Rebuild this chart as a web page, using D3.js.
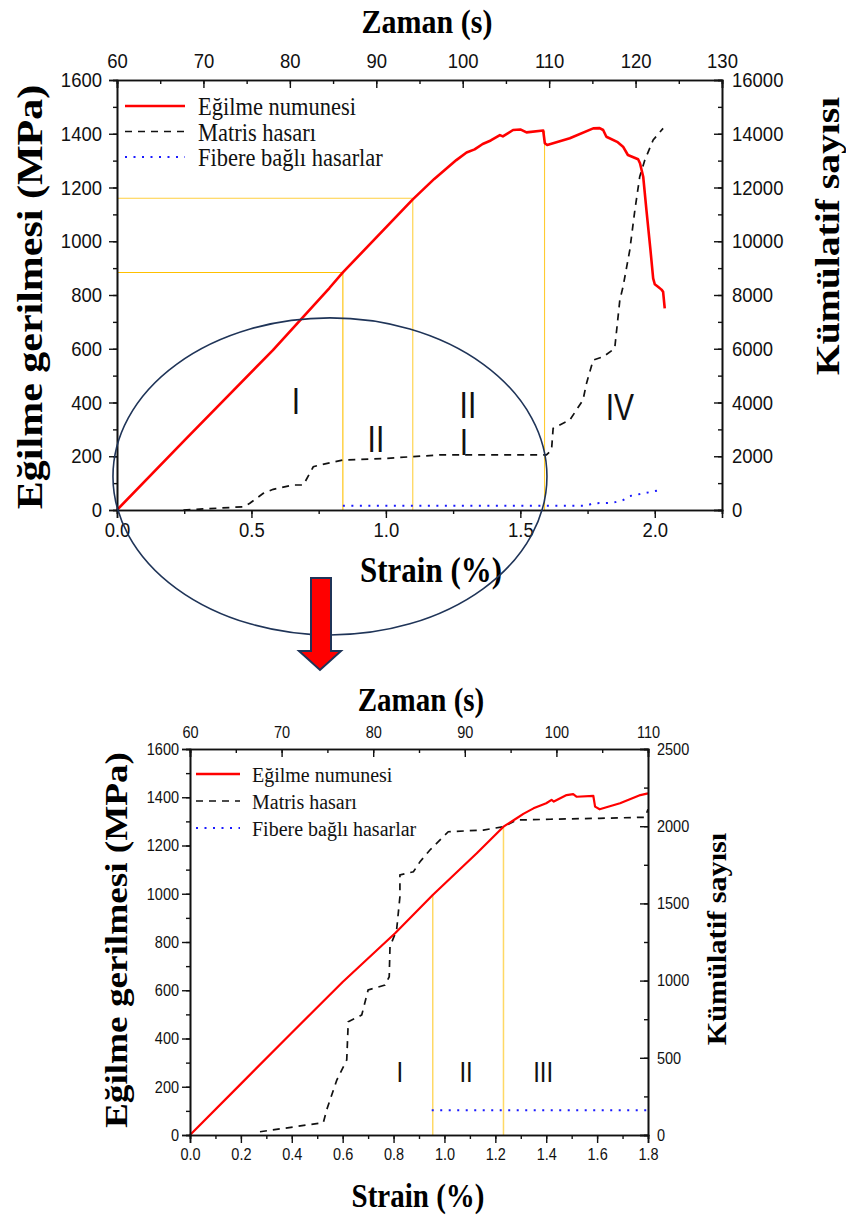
<!DOCTYPE html>
<html><head><meta charset="utf-8">
<script src="https://cdn.jsdelivr.net/npm/d3@7"></script>
<style>body{margin:0;background:#fff}svg{display:block}</style>
</head><body>
<svg id="fig" width="846" height="1216"></svg>
<script>
// ---------- upper panel: whole bending test ----------
const upperStrain = [0, 0.25, 0.58, 0.79, 0.84, 1.10, 1.18, 1.262, 1.30, 1.33, 1.36, 1.39, 1.424, 1.435, 1.473, 1.50, 1.523, 1.585, 1.591, 1.60, 1.684, 1.771, 1.795, 1.808, 1.82, 1.86, 1.882, 1.90, 1.938, 1.945, 1.957, 1.969, 1.984, 1.994, 2.0, 2.012, 2.025, 2.031, 2.037];
const upperStress = [0, 258, 595, 826, 884, 1156, 1232, 1302, 1330, 1342, 1362, 1375, 1395, 1390, 1414, 1416, 1405, 1412, 1365, 1358, 1383, 1420, 1421, 1414, 1389, 1370, 1352, 1321, 1305, 1290, 1240, 1116, 967, 862, 840, 831, 820, 812, 750];
const upperMatrixStrain = [0.247, 0.47, 0.494, 0.544, 0.581, 0.655, 0.693, 0.73, 0.755, 0.84, 1.0, 1.20, 1.597, 1.616, 1.622, 1.684, 1.733, 1.746, 1.771, 1.808, 1.851, 1.870, 1.882, 1.907, 1.926, 1.944, 1.963, 1.994, 2.031];
const upperMatrixCount = [0, 120, 250, 620, 770, 930, 930, 1610, 1675, 1860, 1920, 2050, 2050, 2230, 3040, 3350, 4090, 4710, 5580, 5700, 6010, 7810, 8310, 9670, 11160, 12400, 13020, 13770, 14200];
const upperFiberStrain = [0.84, 1.746, 1.771, 1.845, 1.882, 1.907, 1.969, 2.019];
const upperFiberCount = [160, 160, 250, 270, 370, 520, 640, 740];
// stage boundaries: strain, stress, whether a horizontal reference is drawn to the stress axis
const upperGuideStrain = [0.84, 1.10, 1.59];
const upperGuideStress = [884, 1160, 1410];
const upperGuideHorizontal = [true, true, false];
const upperStageText = ["I", "II", "II", "I", "IV"];
const upperStageStrain = [0.665, 0.963, 1.305, 1.29, 1.87];
const upperStageStress = [402, 262, 387, 250, 380];
const upperStrainTicks = [0, 0.5, 1.0, 1.5, 2.0];
const upperTimeTicks = [60, 70, 80, 90, 100, 110, 120, 130];
const upperStressTicks = [0, 200, 400, 600, 800, 1000, 1200, 1400, 1600];
const upperCountTicks = [0, 2000, 4000, 6000, 8000, 10000, 12000, 14000, 16000];

// ---------- lower panel: close-up up to 1.8 % strain ----------
const lowerStrain = [0, 0.2, 0.4, 0.6, 0.806, 0.954, 1.127, 1.232, 1.284, 1.31, 1.35, 1.40, 1.421, 1.43, 1.48, 1.506, 1.52, 1.585, 1.592, 1.61, 1.69, 1.77, 1.80];
const lowerStress = [0, 212, 424, 634, 836, 995, 1168, 1278, 1313, 1331, 1354, 1375, 1389, 1382, 1409, 1413, 1402, 1406, 1361, 1350, 1375, 1409, 1416];
const lowerMatrixStrain = [0.275, 0.524, 0.537, 0.577, 0.616, 0.622, 0.675, 0.70, 0.766, 0.783, 0.786, 0.812, 0.825, 0.825, 0.878, 0.904, 0.943, 1.015, 1.153, 1.232, 1.284, 1.415, 1.61, 1.789, 1.80];
const lowerMatrixCount = [21, 80, 162, 356, 486, 734, 777, 939, 971, 1025, 1220, 1328, 1543, 1684, 1705, 1770, 1846, 1964, 1975, 1997, 2040, 2045, 2051, 2058, 2110];
const lowerFiberStrain = [0.95, 1.80];
const lowerFiberCount = [160, 160];
const lowerGuideStrain = [0.954, 1.232];
const lowerGuideStress = [995, 1278];
const lowerGuideHorizontal = [false, false];
const lowerStageText = ["I", "II", "III"];
const lowerStageStrain = [0.825, 1.085, 1.388];
const lowerStageStress = [261, 261, 261];
const lowerStrainTicks = [0, 0.2, 0.4, 0.6, 0.8, 1.0, 1.2, 1.4, 1.6, 1.8];
const lowerTimeTicks = [60, 70, 80, 90, 100, 110];
const lowerStressTicks = [0, 200, 400, 600, 800, 1000, 1200, 1400, 1600];
const lowerCountTicks = [0, 500, 1000, 1500, 2000, 2500];

const seriesNames = ["Eğilme numunesi", "Matris hasarı", "Fibere bağlı hasarlar"];

const SERIF = "'Liberation Serif','Times New Roman',serif";
const SANS = "'Liberation Sans',Arial,sans-serif";
const RED = "#ff0000", GUIDE = "#ffc000", NAVY = "#1f3458";
const svg = d3.select("#fig");

// text in this figure is drawn slightly taller than wide
function stretchText(sel, s) {
  sel.each(function () {
    const t = d3.select(this);
    const x = +t.attr("x") || 0, y = +t.attr("y") || 0;
    t.attr("x", null).attr("y", null)
      .attr("transform", `translate(${x},${y}) scale(1,${s})`);
  });
}
function range(a, b, step) {
  const out = [];
  for (let v = a; v <= b + 1e-9; v += step) out.push(+v.toFixed(6));
  return out;
}

function drawPanel(p) {
  const g = svg.append("g");
  const x = d3.scaleLinear().domain(p.strainDomain).range([p.left, p.right]);
  const t = d3.scaleLinear().domain(p.timeDomain).range([p.left, p.right]);
  const y = d3.scaleLinear().domain([0, 1600]).range([p.bottom, p.top]);
  const yr = d3.scaleLinear().domain(p.countDomain).range([p.bottom, p.top]);

  // stage boundary guides
  p.guideStrain.forEach((s, i) => {
    const st = p.guideStress[i];
    g.append("line").attr("x1", x(s)).attr("x2", x(s)).attr("y1", y(0)).attr("y2", y(st))
      .attr("stroke", GUIDE).attr("stroke-width", p.guideWidth).attr("opacity", p.guideOpacity[i]);
    if (p.guideHorizontal[i]) {
      g.append("line").attr("x1", x(0)).attr("x2", x(s)).attr("y1", y(st)).attr("y2", y(st))
        .attr("stroke", GUIDE).attr("stroke-width", p.guideWidth).attr("opacity", p.guideOpacity[i]);
    }
  });

  // series
  const lineS = d3.line().x(d => x(d[0])).y(d => y(d[1]));
  const lineC = d3.line().x(d => x(d[0])).y(d => yr(d[1]));
  g.append("path").datum(p.fiberStrain.map((s, i) => [s, p.fiberCount[i]]))
    .attr("d", lineC).attr("fill", "none").attr("stroke", "#1a1aff")
    .attr("stroke-width", 2).attr("stroke-dasharray", "2,6.5");
  g.append("path").datum(p.matrixStrain.map((s, i) => [s, p.matrixCount[i]]))
    .attr("d", lineC).attr("fill", "none").attr("stroke", "#111")
    .attr("stroke-width", 1.7).attr("stroke-dasharray", "7,6");
  g.append("path").datum(p.strain.map((s, i) => [s, p.stress[i]]))
    .attr("d", lineS).attr("fill", "none").attr("stroke", RED)
    .attr("stroke-width", p.redWidth).attr("stroke-linejoin", "round");

  // axes
  const axStyle = a => {
    a.selectAll("path.domain").attr("stroke", "#111").attr("stroke-width", 1.6);
    a.selectAll(".tick line").attr("stroke", "#111").attr("stroke-width", 1.4);
    a.selectAll("text").attr("font-family", SANS).attr("font-size", p.tickFont).attr("fill", "#111");
  };
  const minor = (axis, vals, size) => axis.tickValues(vals).tickSize(size).tickFormat("");

  // minor ticks first
  g.append("g").attr("transform", `translate(0,${p.bottom})`)
    .call(minor(d3.axisBottom(x), p.strainMinor, 4)).call(axStyle);
  g.append("g").attr("transform", `translate(0,${p.top})`)
    .call(minor(d3.axisTop(t), range(p.timeDomain[0], p.timeDomain[1], 5), -4)).call(axStyle);
  g.append("g").attr("transform", `translate(${p.left},0)`)
    .call(minor(d3.axisLeft(y), range(0, 1600, 100), 4)).call(axStyle);
  g.append("g").attr("transform", `translate(${p.right},0)`)
    .call(minor(d3.axisRight(yr), p.countMinor, -4)).call(axStyle);

  const ab = g.append("g").attr("transform", `translate(0,${p.bottom})`)
    .call(d3.axisBottom(x).tickValues(p.strainTicks).tickSize(8).tickPadding(5).tickFormat(d3.format(".1f"))).call(axStyle);
  const at = g.append("g").attr("transform", `translate(0,${p.top})`)
    .call(d3.axisTop(t).tickValues(p.timeTicks).tickSize(-8).tickPadding(p.pads[1]).tickFormat(d3.format("d"))).call(axStyle);
  const al = g.append("g").attr("transform", `translate(${p.left},0)`)
    .call(d3.axisLeft(y).tickValues(p.stressTicks).tickSize(8).tickPadding(p.pads[0]).tickFormat(d3.format("d"))).call(axStyle);
  const ar = g.append("g").attr("transform", `translate(${p.right},0)`)
    .call(d3.axisRight(yr).tickValues(p.countTicks).tickSize(-8).tickPadding(p.pads[2]).tickFormat(d3.format("d"))).call(axStyle);
  [ab, at, al, ar].forEach(a => stretchText(a.selectAll("text"), p.tickStretch));

  // axis titles
  const title = (txt, spec, rot) => {
    const [tx, ty, size, len] = spec;
    g.append("text").text(txt)
      .attr("font-family", SERIF).attr("font-weight", "bold").attr("font-size", size)
      .attr("text-anchor", "middle").attr("dominant-baseline", "central").attr("fill", "#000")
      .attr("transform", rot ? `translate(${tx},${ty}) rotate(-90) scale(${len},1)` : `translate(${tx},${ty}) scale(1,${len})`);
  };
  title("Zaman (s)", p.titles.time, false);
  title("Strain (%)", p.titles.strain, false);
  title("Eğilme gerilmesi (MPa)", p.titles.stress, true);
  title("Kümülatif sayısı", p.titles.count, true);

  // legend
  const L = p.legend;
  const styles = [
    { stroke: RED, w: 2.5, dash: null },
    { stroke: "#111", w: 1.7, dash: "7,6" },
    { stroke: "#1a1aff", w: 2, dash: "2,6.5" }
  ];
  seriesNames.forEach((name, i) => {
    const yy = L.y + i * L.gap;
    g.append("line").attr("x1", L.x).attr("x2", L.x + L.len).attr("y1", yy).attr("y2", yy)
      .attr("stroke", styles[i].stroke).attr("stroke-width", styles[i].w)
      .attr("stroke-dasharray", styles[i].dash);
    g.append("text").text(name).attr("font-family", SERIF).attr("font-size", L.font)
      .attr("dominant-baseline", "central").attr("fill", "#111")
      .attr("transform", `translate(${L.x + L.len + L.pad},${yy + 1}) scale(1,1.08)`);
  });

  // stage numerals
  p.stageText.forEach((s, i) => {
    g.append("text").text(s).attr("font-family", SANS).attr("font-size", p.stageFont)
      .attr("text-anchor", "middle").attr("dominant-baseline", "central").attr("fill", "#111")
      .attr("transform", `translate(${x(p.stageStrain[i])},${y(p.stageStress[i])}) scale(1,1.2)`);
  });

  return { x, y };
}

const upper = drawPanel({
  left: 117, right: 722, top: 80, bottom: 510,
  strainDomain: [0, 2.25], timeDomain: [60, 130], countDomain: [0, 16000],
  strainTicks: upperStrainTicks, strainMinor: range(0, 2.25, 0.25),
  timeTicks: upperTimeTicks, stressTicks: upperStressTicks,
  countTicks: upperCountTicks, countMinor: range(0, 16000, 1000),
  strain: upperStrain, stress: upperStress,
  matrixStrain: upperMatrixStrain, matrixCount: upperMatrixCount,
  fiberStrain: upperFiberStrain, fiberCount: upperFiberCount,
  guideStrain: upperGuideStrain, guideStress: upperGuideStress,
  guideHorizontal: upperGuideHorizontal, guideOpacity: [1, 0.75, 0.8], guideWidth: 1.1,
  stageText: upperStageText, stageStrain: upperStageStrain, stageStress: upperStageStress,
  stageFont: 30, tickFont: 18.5, tickStretch: 1.1, pads: [7, 12, 10], redWidth: 2.6,
  legend: { x: 125, y: 106, gap: 25.5, len: 60, pad: 13, font: 22.5 },
  titles: { time: [427, 21, 30, 1.15], strain: [431, 570, 31, 1.15], stress: [30, 297, 35, 1.2], count: [828, 236, 33, 1.2] }
});

const lower = drawPanel({
  left: 190, right: 648, top: 749, bottom: 1135,
  strainDomain: [0, 1.8], timeDomain: [60, 110], countDomain: [0, 2500],
  strainTicks: lowerStrainTicks, strainMinor: range(0, 1.8, 0.1),
  timeTicks: lowerTimeTicks, stressTicks: lowerStressTicks,
  countTicks: lowerCountTicks, countMinor: range(0, 2500, 250),
  strain: lowerStrain, stress: lowerStress,
  matrixStrain: lowerMatrixStrain, matrixCount: lowerMatrixCount,
  fiberStrain: lowerFiberStrain, fiberCount: lowerFiberCount,
  guideStrain: lowerGuideStrain, guideStress: lowerGuideStress,
  guideHorizontal: lowerGuideHorizontal, guideOpacity: [0.6, 0.6], guideWidth: 1.5,
  stageText: lowerStageText, stageStrain: lowerStageStrain, stageStress: lowerStageStress,
  stageFont: 24, tickFont: 14.5, tickStretch: 1.15, pads: [3, 11, 9], redWidth: 2.2,
  legend: { x: 196, y: 774, gap: 27, len: 44, pad: 12, font: 20 },
  titles: { time: [421, 700, 29, 1.15], strain: [418, 1196, 29, 1.15], stress: [116, 940, 31, 1.2], count: [716, 939, 28, 1.08] }
});

// ellipse marking the region enlarged below (strain/stress of the upper panel)
const ellCenter = [0.792, 125], ellRadius = [0.807, 590];
svg.append("ellipse")
  .attr("cx", upper.x(ellCenter[0])).attr("cy", upper.y(ellCenter[1]))
  .attr("rx", upper.x(ellCenter[0] + ellRadius[0]) - upper.x(ellCenter[0]))
  .attr("ry", upper.y(0) - upper.y(ellRadius[1]))
  .attr("fill", "none").attr("stroke", NAVY).attr("stroke-width", 1.6);

// downward arrow linking the two panels
svg.append("path")
  .attr("d", "M311,578 L331,578 L331,651 L341,651 L320,670 L299,651 L311,651 Z")
  .attr("fill", RED).attr("stroke", NAVY).attr("stroke-width", 2).attr("stroke-linejoin", "miter");
</script>
</body></html>
